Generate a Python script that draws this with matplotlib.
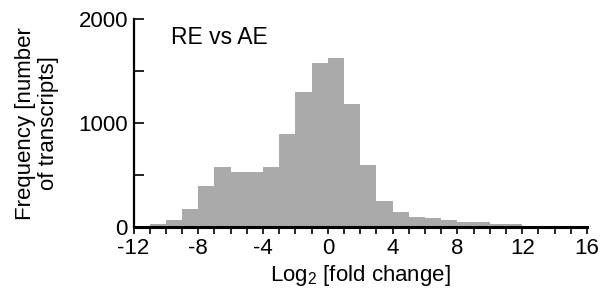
import numpy as np
import matplotlib.pyplot as plt
from matplotlib.ticker import MultipleLocator

# histogram: bin edges (log2 fold change) and counts
bin_edges = [-11, -10, -9, -8, -7, -6, -5, -4, -3, -2, -1, 0, 1, 2, 3, 4,
             5, 6, 7, 8, 9, 10, 11, 12]
counts = [29, 67, 175, 394, 574, 529, 529, 574, 894, 1301, 1580, 1631,
          1186, 599, 250, 147, 96, 84, 70, 51, 51, 29, 29]
x_ticks = [-12, -8, -4, 0, 4, 8, 12, 16]
y_ticks = [0, 1000, 2000]

plt.rcParams['font.family'] = ['Liberation Sans', 'DejaVu Sans']
plt.rcParams['mathtext.fontset'] = 'custom'
plt.rcParams['mathtext.rm'] = 'Liberation Sans'
plt.rcParams['mathtext.it'] = 'Liberation Sans'
plt.rcParams['axes.unicode_minus'] = False

fig = plt.figure(figsize=(6.05, 2.9), dpi=100)
ax = fig.add_axes([0.2207, 0.217, 0.7495, 0.717])

edges = np.array(bin_edges, dtype=float)
ax.hist(edges[:-1], bins=edges, weights=counts, color='#aaaaaa',
        edgecolor='none', linewidth=0)

ax.set_xlim(-12, 16)
ax.set_ylim(0, 2000)
ax.set_xticks(x_ticks)
ax.set_yticks(y_ticks)
ax.xaxis.set_minor_locator(MultipleLocator(1))
ax.yaxis.set_minor_locator(MultipleLocator(500))

for s in ['top', 'right']:
    ax.spines[s].set_visible(False)
ax.spines['bottom'].set_linewidth(2.2)
ax.spines['left'].set_linewidth(1.6)

ax.tick_params(axis='x', which='both', direction='out', length=5, width=1.2,
               labelsize=16, pad=3)
ax.tick_params(axis='y', which='both', direction='in', length=7, width=1.2,
               labelsize=16, pad=4)

ax.set_xlabel('Log$_2$ [fold change]', fontsize=16, labelpad=3)
ax.set_ylabel('Frequency [number\nof transcripts]', fontsize=16,
              labelpad=14, linespacing=1.1)
ax.text(-9.7, 1827, 'RE vs AE', fontsize=16.5, va='center', ha='left')

plt.savefig('out.png', dpi=100)
